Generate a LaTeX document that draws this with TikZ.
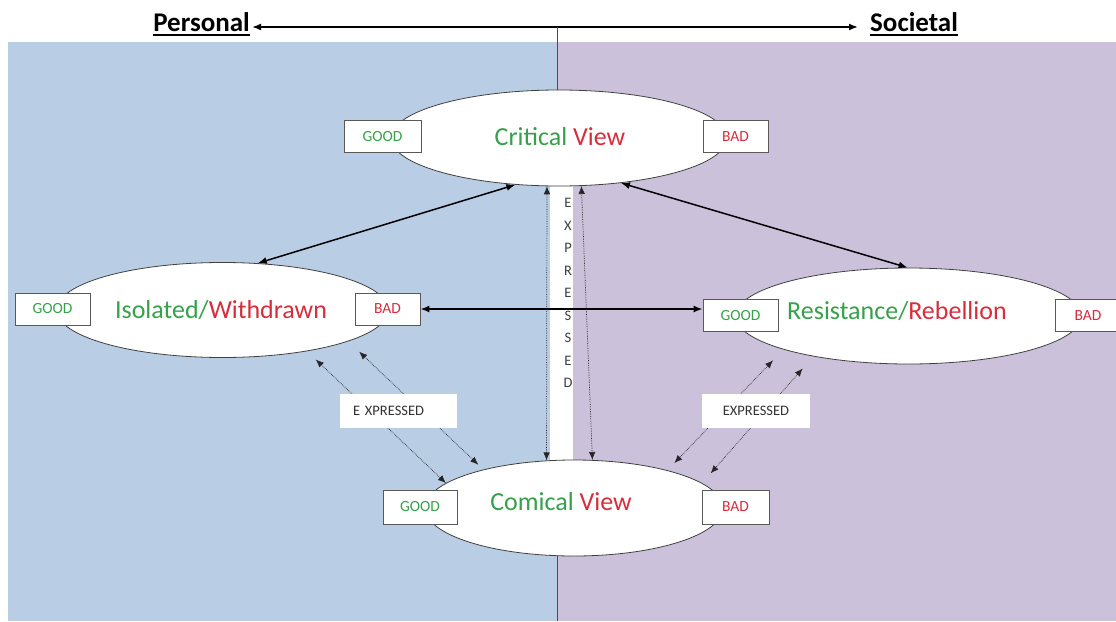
\documentclass[tikz,border=0pt]{standalone}
\usepackage{fontspec}
\setmainfont{Carlito}
\usetikzlibrary{shapes.geometric,arrows.meta}
\definecolor{pblue}{HTML}{B9CDE5}
\definecolor{ppurple}{HTML}{CCC1DA}
\definecolor{tgreen}{RGB}{55,160,75}
\definecolor{tred}{RGB}{215,45,60}
\begin{document}
\begin{tikzpicture}[x=1pt,y=-1pt,
  view/.style={ellipse,draw=black!75,line width=0.8pt,fill=white,inner sep=0pt,minimum height=96pt},
  tagbox/.style={draw=black!65,line width=0.9pt,fill=white,minimum height=32pt,inner sep=0pt,font=\fontsize{15.5}{17}\selectfont},
  big/.style={font=\fontsize{26}{30}\selectfont,inner sep=0pt},
  hdr/.style={font=\fontsize{27}{30}\selectfont\bfseries,inner sep=0pt},
  exbox/.style={fill=white,minimum height=34pt,inner ysep=0pt,font=\fontsize{14.5}{16}\selectfont,text=black!80},
  solidarr/.style={{Latex[length=9pt,width=7pt]}-{Latex[length=9pt,width=7pt]},line width=1.5pt},
  dotarr/.style={{Latex[length=8pt,width=6.5pt]}-{Latex[length=8pt,width=6.5pt]},densely dotted,line width=0.7pt,draw=black!85}
]
\useasboundingbox (0,0) rectangle (1116,621);
\fill[white] (0,0) rectangle (1116,621);
\fill[pblue] (8,42) rectangle (557,621);
\fill[ppurple] (557,42) rectangle (1116,621);

% header
\node[hdr,anchor=base east] (pers) at (250,31) {Personal};
\node[hdr,anchor=base west] (soc) at (870,31) {Societal};
\draw[line width=2pt] ([yshift=-3.5pt]pers.base west) -- ([yshift=-3.5pt]pers.base east);
\draw[line width=2pt] ([yshift=-3.5pt]soc.base west) -- ([yshift=-3.5pt]soc.base east);
\coordinate (hl) at (252,27);
\coordinate (hr) at (858,27);
\coordinate (vtop) at (557,27);
\coordinate (vbot) at (557,621);
\draw[{Latex[length=9pt,width=7pt]}-{Latex[length=9pt,width=7pt]},line width=1.7pt] (hl) -- (hr);
\draw[line width=0.9pt,black!70] (vtop) -- (vbot);

% white strip with vertical text
\node[fill=white,minimum width=23pt,minimum height=277pt,inner sep=0pt] (strip) at (561.5,323.5) {};
\node[align=center,inner sep=0pt,font=\fontsize{14.5}{22.5}\selectfont,text=black!75] (vexp) at (568,293.3) {E\\X\\P\\R\\E\\S\\S\\E\\D};

% ellipses
\node[view,minimum width=336pt] (crit) at (559,138) {};
\node[view,minimum width=332pt,minimum height=95pt] (iso) at (222.5,310) {};
\node[view,minimum width=346pt] (res) at (908.5,316) {};
\node[view,minimum width=298pt] (com) at (574,508) {};

\node[big] (critt) at (560,137) {\textcolor{tgreen}{Critical} \textcolor{tred}{View}};
\node[big] (isot) at (221,310) {\textcolor{tgreen}{Isolated/}\textcolor{tred}{Withdrawn}};
\node[big] (rest) at (897,311) {\textcolor{tgreen}{Resistance/}\textcolor{tred}{Rebellion}};
\node[big] (comt) at (561,502) {\textcolor{tgreen}{Comical} \textcolor{tred}{View}};

% good / bad boxes
\node[tagbox,minimum width=77pt,text=tgreen] (critg) at (382.5,136.5) {GOOD};
\node[tagbox,minimum width=65pt,text=tred] (critb) at (735.5,136.5) {BAD};
\node[tagbox,minimum width=75pt,text=tgreen] (isog) at (52.5,309) {GOOD};
\node[tagbox,minimum width=65pt,text=tred] (isob) at (387.5,309) {BAD};
\node[tagbox,minimum width=75pt,text=tgreen] (resg) at (740.5,315.5) {GOOD};
\node[tagbox,minimum width=65pt,text=tred] (resb) at (1088,315.5) {BAD};
\node[tagbox,minimum width=74pt,minimum height=34pt,text=tgreen] (comg) at (420,507) {GOOD};
\node[tagbox,minimum width=67pt,minimum height=34pt,text=tred] (comb) at (735.5,507) {BAD};

% dotted arrows
\draw[dotarr] (crit.256) -- (com.120);
\draw[dotarr] (crit.295) -- (com.69);
\draw[dotarr,shorten <=12pt] (iso.334) -- (com.169);
\draw[dotarr,shorten <=15pt,shorten >=7pt] (iso.346) -- (com.157);
\draw[dotarr,shorten <=15pt,shorten >=10pt] (res.195) -- (com.22);
\draw[dotarr,shorten <=16pt,shorten >=13pt] (res.203.5) -- (com.11);

% solid arrows
\draw[solidarr] (crit.227) -- (iso.53);
\draw[solidarr] (crit.324) -- (res.91);
\draw[solidarr] (isob.east) -- (isob.east -| resg.west);

% expressed labels
\node[exbox,inner xsep=13pt,text width=91pt,align=left] (exl) at (398.5,410.5) {E XPRESSED};
\node[exbox,minimum width=108pt,inner xsep=0pt] (exr) at (756,410.5) {EXPRESSED};
\end{tikzpicture}
\end{document}
